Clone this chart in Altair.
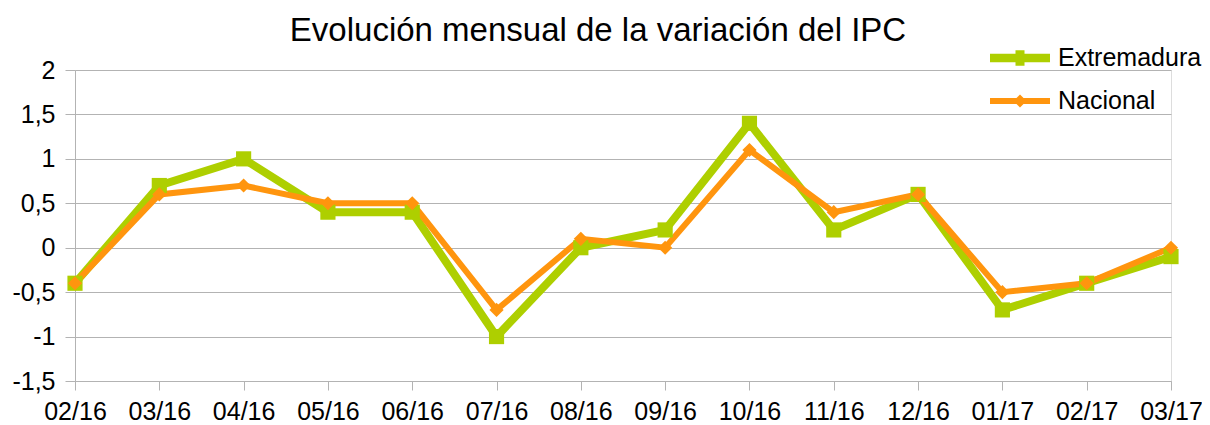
import altair as alt
import pandas as pd

months = ["02/16", "03/16", "04/16", "05/16", "06/16", "07/16", "08/16",
          "09/16", "10/16", "11/16", "12/16", "01/17", "02/17", "03/17"]
extremadura = [-0.4, 0.7, 1.0, 0.4, 0.4, -1.0, 0.0, 0.2, 1.4, 0.2, 0.6, -0.7, -0.4, -0.1]
nacional = [-0.4, 0.6, 0.7, 0.5, 0.5, -0.7, 0.1, 0.0, 1.1, 0.4, 0.6, -0.5, -0.4, 0.0]
series = ["Extremadura", "Nacional"]
colors = ["#aecf00", "#ff950e"]
y_ticks = [-1.5, -1, -0.5, 0, 0.5, 1, 1.5, 2]

df = pd.DataFrame({
    "mes": months * 2,
    "valor": extremadura + nacional,
    "serie": [series[0]] * len(months) + [series[1]] * len(months),
})

FONT = "Liberation Sans"

x_enc = alt.X("mes:O", sort=months, scale=alt.Scale(type="point", padding=0),
              axis=alt.Axis(title=None, labelAngle=0, labelFontSize=25, labelFont=FONT,
                            labelColor="black", tickSize=9, tickColor="#b3b3b3",
                            domainColor="#b3b3b3", labelPadding=9, grid=False))
y_enc = alt.Y("valor:Q", scale=alt.Scale(domain=[-1.5, 2], nice=False, zero=False),
              axis=alt.Axis(title=None, values=y_ticks,
                            labelExpr="replace(datum.value + '', '.', ',')",
                            labelFontSize=25, labelFont=FONT, labelColor="black",
                            tickSize=10, tickColor="#b3b3b3", domainColor="#b3b3b3",
                            gridColor="#b3b3b3", labelPadding=10))

base = alt.Chart(df).encode(x=x_enc, y=y_enc)

def layer_for(name, color, width, shape, size):
    sub = base.transform_filter(alt.datum.serie == name)
    line = sub.mark_line(color=color, strokeWidth=width, strokeJoin="miter")
    pts = sub.mark_point(color=color, filled=True, opacity=1, shape=shape, size=size)
    return line, pts

l1, p1 = layer_for("Extremadura", colors[0], 8, "square", 230)
l2, p2 = layer_for("Nacional", colors[1], 6, "diamond", 200)

legend_paths = [
    "M-1,-0.14H1V0.14H-1Z M-0.15,-0.26H0.15V0.26H-0.15Z",
    "M-1,-0.1H1V0.1H-1Z M0,-0.22L0.22,0L0,0.22L-0.22,0Z",
]
legend_layer = base.transform_filter("false").mark_point(filled=True, opacity=1).encode(
    color=alt.Color("serie:N", scale=alt.Scale(domain=series, range=colors),
                    legend=alt.Legend(title=None, orient="none", legendX=915, legendY=-42,
                                      labelFontSize=25, labelFont=FONT, labelColor="black",
                                      symbolSize=3600, symbolStrokeWidth=0, symbolOpacity=1,
                                      labelOffset=8, rowPadding=-24, padding=0)),
    shape=alt.Shape("serie:N", scale=alt.Scale(domain=series, range=legend_paths)),
)

chart = alt.layer(l1, l2, p1, p2, legend_layer).properties(
    width=1096, height=311,
    padding={"left": 67, "top": 62, "right": 31, "bottom": 44},
    autosize=alt.AutoSizeParams(type="none"),
    title=alt.TitleParams("Evolución mensual de la variación del IPC", fontSize=33,
                          font=FONT, fontWeight="normal", color="black",
                          anchor="middle", dx=-25, offset=10, dy=30),
).configure_view(stroke="#b3b3b3", strokeWidth=1).configure(background="white")

chart.save("out.html", embed_options={"renderer": "svg", "actions": False})
